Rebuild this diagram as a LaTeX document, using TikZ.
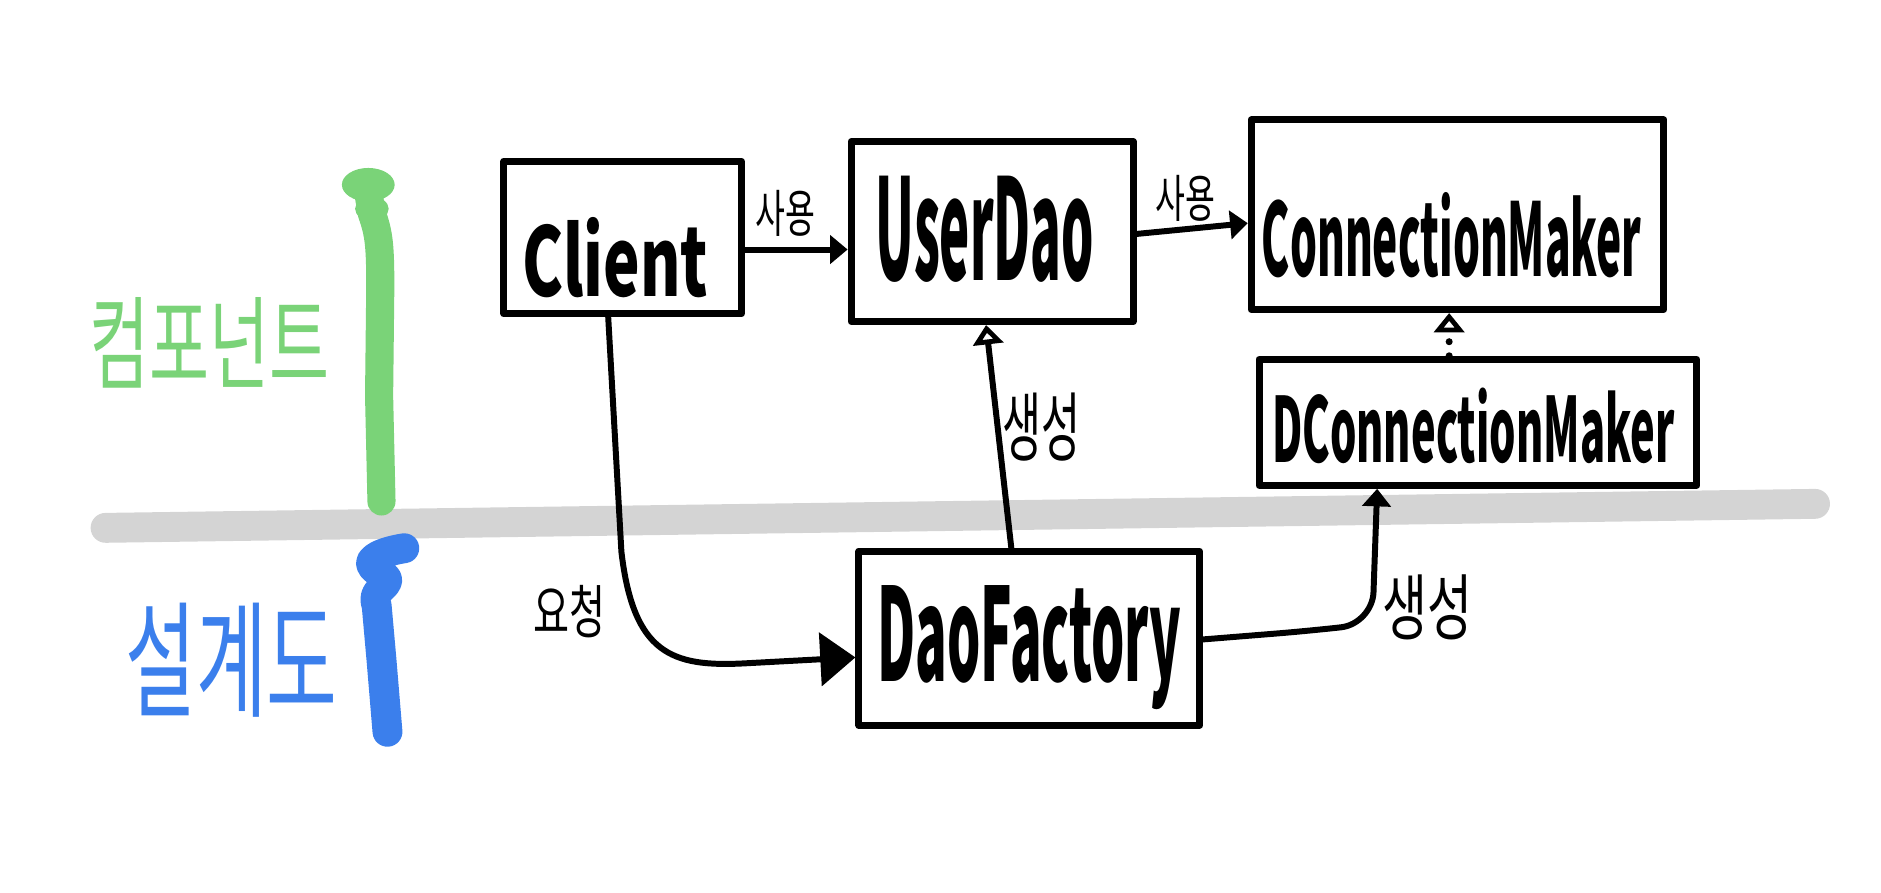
\documentclass[tikz,border=0pt]{standalone}
\usepackage{fontspec}
\usepackage{graphicx}
\setmainfont{Noto Sans CJK KR}
\usetikzlibrary{arrows.meta}
\definecolor{compgreen}{RGB}{122,211,120}
\definecolor{designblue}{RGB}{59,127,236}
\definecolor{bandgray}{RGB}{212,212,212}
\newcommand\hw[3]{\resizebox{#1pt}{#2pt}{#3}}
\newcommand\pxu{0.012cm}
\begin{document}
\begin{tikzpicture}[x=0.012cm,y=-0.012cm,
  box/.style={draw=black,line width=2pt,inner sep=0pt,line join=round,line cap=round},
  txt/.style={inner sep=0pt,font=\bfseries},
  lbl/.style={inner sep=0pt},
  conn/.style={line width=1.7pt,line cap=round,line join=round},
  filled/.style={-{Triangle[length=5pt,width=8pt]}},
  bigfilled/.style={-{Triangle[length=10pt,width=15pt]}},
  hollow/.style={-{Triangle[open,length=5.5pt,width=8.5pt,line width=1.6pt]}}]
\useasboundingbox (0,0) rectangle (1568,744);
% separator band
\draw[line width=8.5pt,bandgray,line cap=round] (88,440) -- (800,430) -- (1513,420);
% green bar
\draw[line width=8pt,compgreen,line cap=round,line join=round] (306,155) -- (310,178) .. controls (316,195) and (317,205) .. (317,240) -- (316,330) -- (318,418);
\fill[compgreen] (307,154) ellipse (22 and 14);
\fill[compgreen] (310,174) ellipse (14 and 10);
% blue bar
\draw[line width=8.5pt,designblue,line cap=round,line join=round] (337,457) .. controls (318,460) and (306,466) .. (310,472) .. controls (314,478) and (326,480) .. (322,486) .. controls (318,492) and (310,494) .. (314,505) -- (318,550) -- (323,610);
% side texts
\node[lbl,text=compgreen] (comp) at (175,286) {\hw{68.3}{23.9}{컴포넌트}};
\node[lbl,text=designblue] (design) at (193,550) {\hw{60.4}{29.7}{설계도}};
% boxes
\node[box,minimum width={198*\pxu},minimum height={127*\pxu}] (client) at (519,198) {};
\node[box,minimum width={235*\pxu},minimum height={150*\pxu}] (userdao) at (827,193) {};
\node[box,minimum width={344*\pxu},minimum height={158*\pxu}] (cm) at (1215,179) {};
\node[box,minimum width={365*\pxu},minimum height={105*\pxu}] (dcm) at (1232,352) {};
\node[box,minimum width={284*\pxu},minimum height={145*\pxu}] (daofactory) at (858,532) {};
% box texts
\node[txt] (tclient) at (513,215) {\hw{52.9}{22.5}{Client}};
\node[txt] (tuserdao) at (821,191) {\hw{62.1}{29.7}{UserDao}};
\node[txt] (tcm) at (1210,196) {\hw{107.9}{23.9}{ConnectionMaker}};
\node[txt] (tdcm) at (1228,355) {\hw{114.4}{21.2}{DConnectionMaker}};
\node[txt] (tdao) at (858,540) {\hw{86.4}{27.3}{DaoFactory}};
% connectors
\draw[conn,filled] (client.east |- 0,208) -- (userdao.west |- 0,208);
\node[lbl] (use1) at (655,178) {\hw{17}{12}{사용}};
\draw[conn,filled] (userdao.east |- 0,195) -- (cm.west |- 0,186);
\node[lbl] (use2) at (988,165) {\hw{17}{12}{사용}};
\draw[conn,hollow] (daofactory.north -| 843,0) -- (userdao.south -| 822,0);
\node[lbl] (gen1) at (868,356) {\hw{22.2}{17.8}{생성}};
\draw[conn,line width=2pt,dash pattern=on 0pt off 4pt,hollow] (dcm.north -| 1208,0) -- (cm.south -| 1208,0);
\draw[conn,filled,rounded corners=9pt] (daofactory.east |- 0,533) -- (1090,526) -- (1144,520) -- (dcm.south -| 1148,0);
\node[lbl] (gen2) at (1190,506) {\hw{25.6}{17}{생성}};
\draw[conn,bigfilled] (client.south -| 507,0) -- (518,460) .. controls (528,545) and (560,556) .. (620,553) -- (daofactory.west |- 0,548);
\node[lbl] (req) at (475,510) {\hw{20.5}{13.7}{요청}};
\end{tikzpicture}
\end{document}
